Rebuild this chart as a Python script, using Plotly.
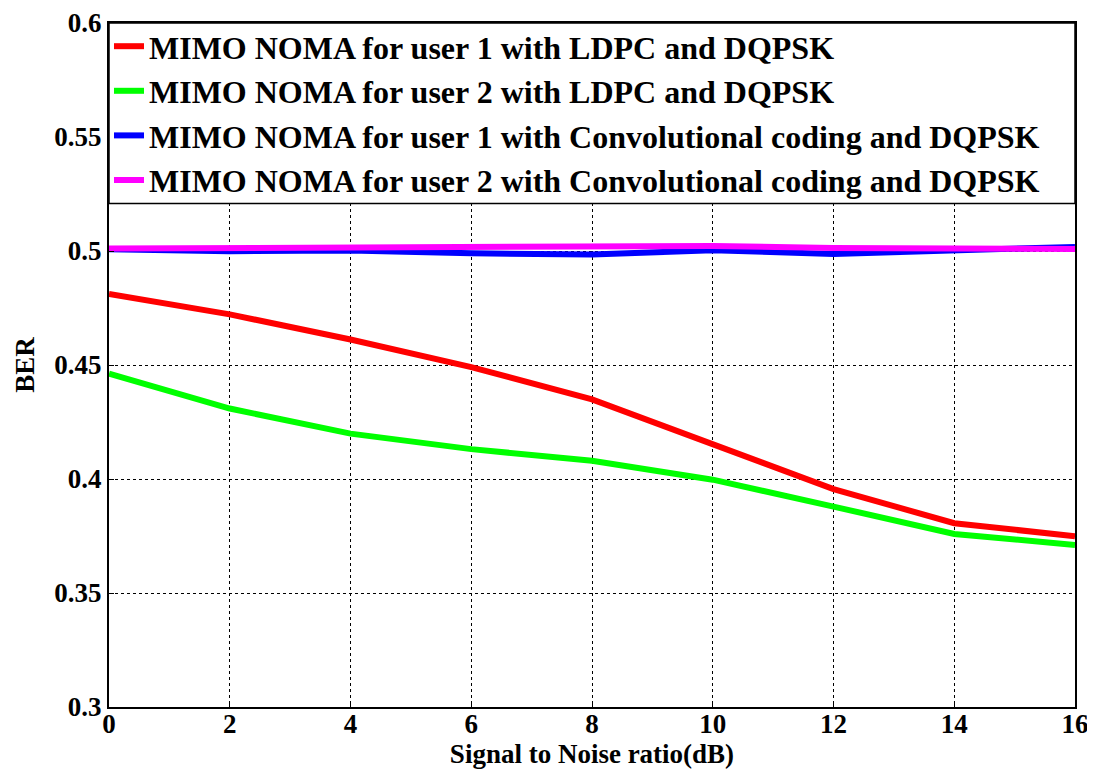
import plotly.graph_objects as go

snr_db = [0, 2, 4, 6, 8, 10, 12, 14, 16]
ber_ldpc_user1 = [0.4812, 0.4722, 0.4612, 0.4491, 0.4349, 0.4150, 0.3956, 0.3806, 0.3749]
ber_ldpc_user2 = [0.4462, 0.4309, 0.4199, 0.4131, 0.4080, 0.3997, 0.3879, 0.3759, 0.3711]
ber_conv_user1 = [0.5008, 0.4999, 0.5002, 0.4990, 0.4985, 0.5003, 0.4987, 0.5001, 0.5018]
ber_conv_user2 = [0.5011, 0.5013, 0.5014, 0.5014, 0.5016, 0.5022, 0.5013, 0.5010, 0.5009]

names = [
    "MIMO NOMA for user 1 with LDPC and DQPSK",
    "MIMO NOMA for user 2 with LDPC and DQPSK",
    "MIMO NOMA for user 1 with Convolutional coding and DQPSK",
    "MIMO NOMA for user 2 with Convolutional coding and DQPSK",
]
colors = ["#ff0000", "#00ff00", "#0000ff", "#ff00ff"]
series = [ber_ldpc_user1, ber_ldpc_user2, ber_conv_user1, ber_conv_user2]

x_ticks = [0, 2, 4, 6, 8, 10, 12, 14, 16]
y_ticks = [0.3, 0.35, 0.4, 0.45, 0.5, 0.55, 0.6]
y_tick_text = ["0.3", "0.35", "0.4", "0.45", "0.5", "0.55", "0.6"]

FONT = "Liberation Serif"

fig = go.Figure()
for i, (nm, col, ys) in enumerate(zip(names, colors, series)):
    fig.add_trace(go.Scatter(
        x=snr_db, y=ys, mode="lines", name="<b>" + nm + "</b>",
        line=dict(color=col, width=6),
        legendgroup=f"g{i}",
    ))

# white legend box region covering the grid
fig.add_shape(type="rect", xref="x", yref="y", x0=0, x1=16, y0=0.5208, y1=0.6,
              fillcolor="white", line=dict(color="black", width=1.5), layer="above")

fig.update_layout(
    width=1087, height=772,
    margin=dict(l=101, r=20, t=11, b=73),
    paper_bgcolor="white", plot_bgcolor="white",
    font=dict(family=FONT, color="black", size=27),
    showlegend=True,
    legend=dict(
        x=0.0, y=1.006, xanchor="left", yanchor="top",
        bgcolor="rgba(0,0,0,0)", borderwidth=0,
        font=dict(family=FONT, size=32, color="black"),
        tracegroupgap=0,
        itemwidth=30,
    ),
    xaxis=dict(
        range=[0, 16], tickvals=x_ticks, ticktext=["<b>%d</b>" % v for v in x_ticks],
        showgrid=True, gridcolor="black", griddash="dot", gridwidth=1,
        showline=True, linecolor="black", linewidth=2, mirror=True,
        ticks="inside", ticklen=5, tickcolor="black",
        tickfont=dict(family=FONT, size=27),
        ticklabeloverflow="allow", ticklabelstandoff=-8,
        title=dict(text="<b>Signal to Noise ratio(dB)</b>", font=dict(family=FONT, size=27), standoff=2),
        zeroline=False, automargin=False,
    ),
    yaxis=dict(
        range=[0.3, 0.6], tickvals=y_ticks, ticktext=["<b>%s</b>" % t for t in y_tick_text],
        showgrid=True, gridcolor="black", griddash="dot", gridwidth=1,
        showline=True, linecolor="black", linewidth=2, mirror=True,
        ticks="inside", ticklen=5, tickcolor="black",
        tickfont=dict(family=FONT, size=27),
        ticklabeloverflow="allow",
        title=dict(text="<b>BER</b>", font=dict(family=FONT, size=27), standoff=12),
        zeroline=False, automargin=False,
    ),
)

fig.write_html("out.html")
